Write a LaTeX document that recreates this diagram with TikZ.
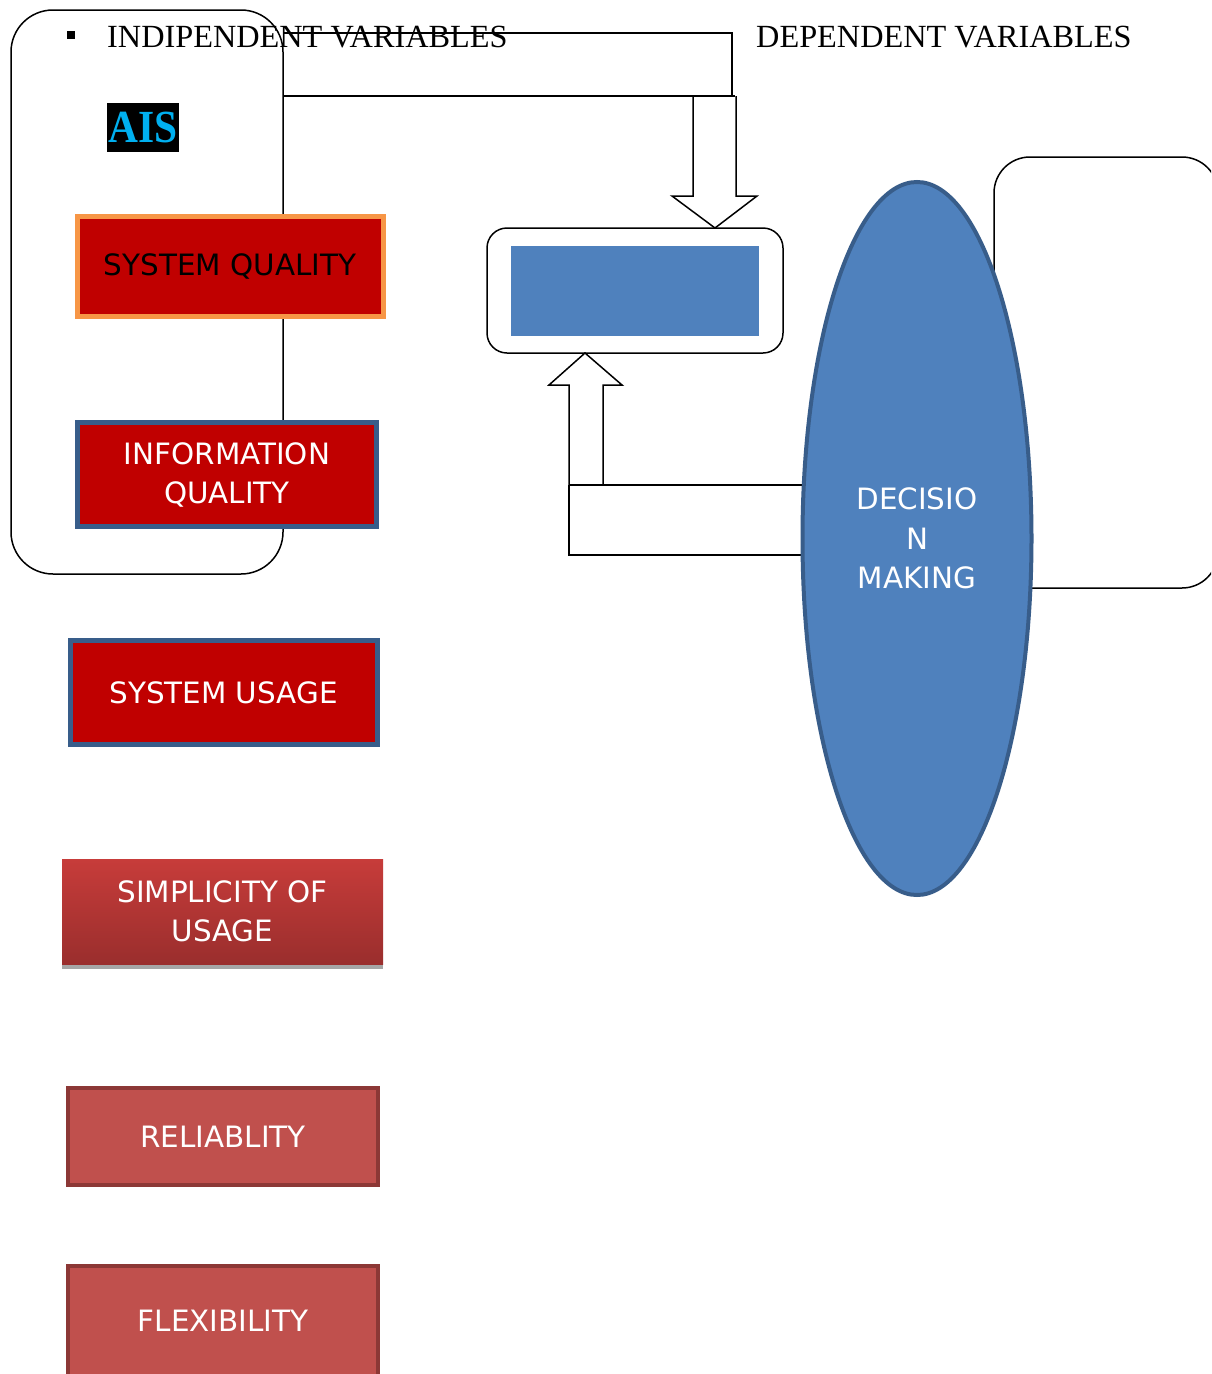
\documentclass[tikz,border=0pt]{standalone}
\usepackage{fontspec}
\setmainfont{Liberation Serif}
\newfontfamily\boxfont{DejaVu Sans}
\usetikzlibrary{shapes.geometric}
\definecolor{darkred}{HTML}{C00000}
\definecolor{orangeb}{HTML}{F79646}
\definecolor{blueb}{HTML}{385D8A}
\definecolor{bluef}{HTML}{4F81BD}
\definecolor{redf}{HTML}{C0504D}
\definecolor{redb}{HTML}{8C3836}
\definecolor{aiscyan}{HTML}{00B0F0}
\definecolor{simptop}{RGB}{199,60,58}
\definecolor{simpbot}{RGB}{154,46,45}
\tikzset{
  thinline/.style={line width=1.5pt, black},
  frame/.style={draw, thinline, rounded corners=42pt, fill=none},
  varbox/.style={rectangle, inner sep=0pt, align=center, text=white,
    font=\boxfont\fontsize{29.4}{39}\selectfont, line width=5pt},
  headtxt/.style={font=\fontsize{32.3}{36}\selectfont, anchor=base west, inner sep=0pt},
  blockarrow/.style={draw, thinline, fill=white, line join=miter},
}
\begin{document}
\begin{tikzpicture}[x=1pt,y=-1pt]
\useasboundingbox (0,0) rectangle (1211,1374);
\clip (0,0) rectangle (1211,1374);
\fill[white] (0,0) rectangle (1211,1374);

% left frame
\node[frame, minimum width=272pt, minimum height=564pt, inner sep=0pt] (lframe) at (147,292) {};
% top connector lines
\coordinate (t1) at (283,33);
\coordinate (t2) at (732,33);
\coordinate (t3) at (735,96);
\coordinate (t4) at (283,96);
\draw[thinline] (t1) -- (t2) -- (t2 |- t3) ;

% headings
\fill[black] (67,31) rectangle (75,39);
\node[headtxt] (indep) at (107,47) {INDIPENDENT VARIABLES};
\node[headtxt] (dep) at (756,47) {DEPENDENT VARIABLES};

% AIS
\node[fill=black, minimum width=72pt, minimum height=49pt, inner sep=0pt,
  text=aiscyan, font=\bfseries\fontsize{46}{48}\selectfont] (ais) at (143,127.5) {\raisebox{-1.5pt}{\scalebox{0.9}[1]{AIS}}};

% centre box
\node[draw, thinline, rounded corners=20pt, minimum width=296pt, minimum height=125pt, inner sep=0pt] (cbox) at (635,290.5) {};
\node[fill=bluef, minimum width=248pt, minimum height=90pt, inner sep=0pt] (cfill) at (635,291) {};

% down block arrow
\draw[blockarrow] (693,96) -- (693,196) -- (672,196) -- (715,228) -- (757,196) -- (736,196) -- (736,96);
\draw[thinline] (t4) -- (t3);
% up block arrow
\draw[blockarrow] (569,485) -- (569,385) -- (549,385) -- (585,353) -- (622,385) -- (603,385) -- (603,485);

% right frame
\node[frame, rounded corners=36pt, minimum width=224pt, minimum height=431pt, inner sep=0pt] (rframe) at (1106,372.5) {};

% lines to decision making
\coordinate (u1) at (569,485);
\coordinate (u2) at (569,555);
\draw[thinline] (u1) -- (900,485);
\draw[thinline] (u1) -- (u2) -- (900,555);

% ellipse
\node[ellipse, draw=blueb, line width=4pt, fill=bluef, minimum width=229pt, minimum height=713pt, inner sep=0pt,
  text=white, align=center, font=\boxfont\fontsize{29.4}{39.5}\selectfont] (dm) at (917,538.5) {DECISIO\\N\\MAKING};

% variable boxes
\node[varbox, draw=orangeb, fill=darkred, text=black, minimum width=306pt, minimum height=100pt] (sq) at (230,266) {SYSTEM QUALITY};
\node[varbox, draw=blueb, fill=darkred, minimum width=299pt, minimum height=104pt] (iq) at (227,474.5) {INFORMATION\\QUALITY};
\node[varbox, draw=blueb, fill=darkred, minimum width=307pt, minimum height=104pt] (su) at (223.5,692.5) {SYSTEM USAGE};
\fill[black!35] (62,964) rectangle (383,969);
\node[varbox, top color=simptop, bottom color=simpbot, minimum width=321pt, minimum height=105pt] (simp) at (222.5,911.5) {SIMPLICITY OF\\USAGE};
\node[varbox, draw=redb, fill=redf, line width=4pt, minimum width=310pt, minimum height=97pt] (rel) at (223,1136.5) {RELIABLITY};
\node[varbox, draw=redb, fill=redf, line width=4pt, minimum width=310pt, minimum height=110pt] (flex) at (223,1321) {FLEXIBILITY};
\end{tikzpicture}
\end{document}
